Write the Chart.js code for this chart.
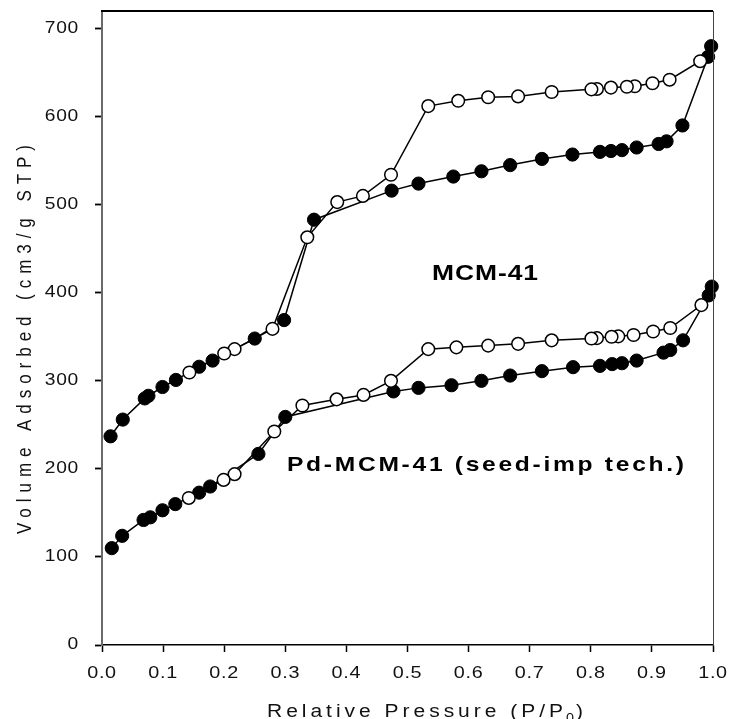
<!DOCTYPE html>
<html><head><meta charset="utf-8">
<script src="https://cdn.jsdelivr.net/npm/chart.js@4/dist/chart.umd.min.js"></script>
<style>html,body{margin:0;padding:0;background:#fff;}canvas{display:block;}</style>
</head><body>
<canvas id="c" width="730" height="719"></canvas>
<script>
// ---- data ----
const mcmAdsP = [0.014,0.034,0.070,0.076,0.099,0.121,0.159,0.181,0.250,0.298,0.347,0.474,0.518,0.575,0.621,0.668,0.720,0.770,0.815,0.833,0.851,0.875,0.911,0.924,0.950,0.992,0.997];
const mcmAdsV = [237,256,280,283,293,301,316,323,348,369,483,516,524,532,538,545,552,557,560,561,562,565,569,572,590,668,680];
const mcmDesP = [0.997,0.979,0.929,0.901,0.872,0.859,0.833,0.810,0.801,0.736,0.681,0.632,0.583,0.534,0.473,0.427,0.385,0.336,0.279,0.217,0.200,0.143];
const mcmDesV = [680,663,642,638,634.5,634,633,631.5,631,628,623,622,618,612,534,510,503,463,359,336,331,309.5];
const pdAdsP = [0.016,0.033,0.068,0.079,0.099,0.120,0.159,0.177,0.256,0.300,0.477,0.518,0.572,0.621,0.668,0.720,0.771,0.815,0.835,0.851,0.875,0.919,0.930,0.951,0.993,0.998];
const pdAdsV = [110,124,142,145,153,160,173,180,217,259,288,292,295,300,306,311,315.5,317,319,320,323,332,335,346,397,407];
const pdDesP = [0.998,0.981,0.930,0.902,0.870,0.845,0.834,0.810,0.801,0.736,0.681,0.632,0.580,0.534,0.473,0.428,0.384,0.328,0.282,0.217,0.199,0.142];
const pdDesV = [407,386,360,356,352,350.5,350,348.5,348,346,342,340,338,336,300,284,279,272,242.5,194,187.5,167];
const xTicks = [0,0.1,0.2,0.3,0.4,0.5,0.6,0.7,0.8,0.9,1.0];
const yTicks = [0,100,200,300,400,500,600,700];
const xTitle = 'Relative Pressure (P/P';
const xTitleSub = '0';
const yTitle = 'Volume Adsorbed (cm3/g STP)';
const label1 = 'MCM-41';
const label2 = 'Pd-MCM-41 (seed-imp tech.)';

const pts = (P, V) => P.map((p, i) => ({x: p, y: V[i]}));
const FONT = "'Liberation Sans', Arial, sans-serif";
const SX = 1.2; // horizontal glyph stretch seen in the reference

const openStyle = {
  showLine: true, borderColor: '#000', borderWidth: 1.5,
  pointBackgroundColor: '#fff', pointBorderColor: '#000', pointBorderWidth: 1.5,
  pointRadius: c => c.dataIndex === 0 ? 0 : 6.3, clip: false
};
const filledStyle = {
  showLine: true, borderColor: '#000', borderWidth: 1.5,
  pointBackgroundColor: '#000', pointBorderColor: '#000', pointBorderWidth: 1,
  pointRadius: 6.6, clip: false
};

// draw text stretched horizontally, fitted to a target width by letter spacing
function fitText(ctx, text, x, y, font, sx, target) {
  ctx.save();
  ctx.font = font;
  ctx.letterSpacing = '0px';
  const nat = ctx.measureText(text).width;
  const sp = target ? Math.max(0, (target / sx - nat) / (text.length - 1)) : 0;
  ctx.letterSpacing = sp + 'px';
  ctx.translate(x, y); ctx.scale(sx, 1);
  ctx.textAlign = 'left'; ctx.textBaseline = 'alphabetic';
  ctx.fillText(text, 0, 0);
  const w = (nat + sp * text.length) * sx;
  ctx.restore();
  return w;
}

let origFill = null;
const textPlugin = {
  id: 'texts',
  beforeDraw(chart) {
    const ctx = chart.ctx;
    ctx.letterSpacing = '0.6px';
    origFill = ctx.fillText;
    ctx.fillText = function (t, x, y) {
      this.save(); this.translate(x, y); this.scale(SX, 1);
      origFill.call(this, t, 0, 0); this.restore();
    };
  },
  beforeDatasetsDraw(chart) {
    const ctx = chart.ctx;
    if (origFill) { delete ctx.fillText; if (ctx.fillText !== origFill) ctx.fillText = origFill; origFill = null; }
    ctx.letterSpacing = '0px';
  },
  afterDraw(chart) {
    const ctx = chart.ctx, a = chart.chartArea;
    ctx.save();
    ctx.letterSpacing = '0px';
    ctx.strokeStyle = '#000'; ctx.lineWidth = 2;
    ctx.beginPath(); ctx.moveTo(a.left - 1, a.top); ctx.lineTo(a.right, a.top); ctx.stroke();
    ctx.strokeStyle = '#444'; ctx.lineWidth = 1;
    ctx.beginPath(); ctx.moveTo(a.right + 0.5, a.top); ctx.lineTo(a.right + 0.5, a.bottom); ctx.stroke();
    ctx.fillStyle = '#000';
    fitText(ctx, label1, 432, 280, 'bold 22px ' + FONT, SX, 106);
    fitText(ctx, label2, 287, 471, 'bold 20.5px ' + FONT, SX, 397);
    ctx.fillStyle = '#111';
    // x title with subscript
    let x = 267;
    x += fitText(ctx, xTitle, x, 717, '17.5px ' + FONT, SX, 296);
    x += fitText(ctx, xTitleSub, x - 1, 722, '12px ' + FONT, SX, 0);
    fitText(ctx, ')', x + 1, 717, '17.5px ' + FONT, SX, 0);
    // y title (rotated; glyphs stretched across, i.e. along text height)
    ctx.save();
    ctx.translate(31, 534); ctx.rotate(-Math.PI / 2);
    ctx.font = '17px ' + FONT;
    const nat = ctx.measureText(yTitle).width;
    ctx.letterSpacing = ((389 - nat) / (yTitle.length - 1)) + 'px';
    ctx.scale(1, 1.15);
    ctx.textAlign = 'left'; ctx.textBaseline = 'alphabetic';
    ctx.fillText(yTitle, 0, 0);
    ctx.restore();
    ctx.restore();
  }
};

new Chart(document.getElementById('c'), {
  type: 'scatter',
  data: { datasets: [
    Object.assign({ label: 'MCM-41 desorption', data: pts(mcmDesP, mcmDesV) }, openStyle),
    Object.assign({ label: 'Pd-MCM-41 desorption', data: pts(pdDesP, pdDesV) }, openStyle),
    Object.assign({ label: 'MCM-41 adsorption', data: pts(mcmAdsP, mcmAdsV) }, filledStyle),
    Object.assign({ label: 'Pd-MCM-41 adsorption', data: pts(pdAdsP, pdAdsV) }, filledStyle)
  ]},
  options: {
    responsive: false, animation: false, devicePixelRatio: 1,
    layout: { padding: { left: 0, right: 17, top: 11, bottom: 0 } },
    plugins: { legend: { display: false }, tooltip: { enabled: false } },
    scales: {
      x: {
        type: 'linear', min: 0, max: 1,
        afterBuildTicks: ax => { ax.ticks = xTicks.map(v => ({ value: v })); },
        afterFit: ax => { ax.height = 74; ax.paddingLeft = 0; ax.paddingRight = 0; },
        ticks: { callback: v => v.toFixed(1), color: '#111', padding: 12, maxRotation: 0, autoSkip: false,
                 font: { family: FONT, size: 16.5 } },
        grid: { drawOnChartArea: false, drawTicks: true, tickLength: 7, tickColor: '#000', tickWidth: 1.5 },
        border: { color: '#000', width: 1.5 }
      },
      y: {
        type: 'linear', min: 0, max: 720,
        afterBuildTicks: ax => { ax.ticks = yTicks.map(v => ({ value: v })); },
        afterFit: ax => { ax.width = 102; ax.paddingTop = 0; ax.paddingBottom = 0; },
        ticks: { color: '#111', padding: 16, autoSkip: false, font: { family: FONT, size: 16 } },
        grid: { drawOnChartArea: false, drawTicks: true, tickLength: 7, tickColor: '#000', tickWidth: 1.8 },
        border: { color: '#6a6a6a', width: 2 }
      }
    }
  },
  plugins: [textPlugin]
});
</script>
</body></html>
